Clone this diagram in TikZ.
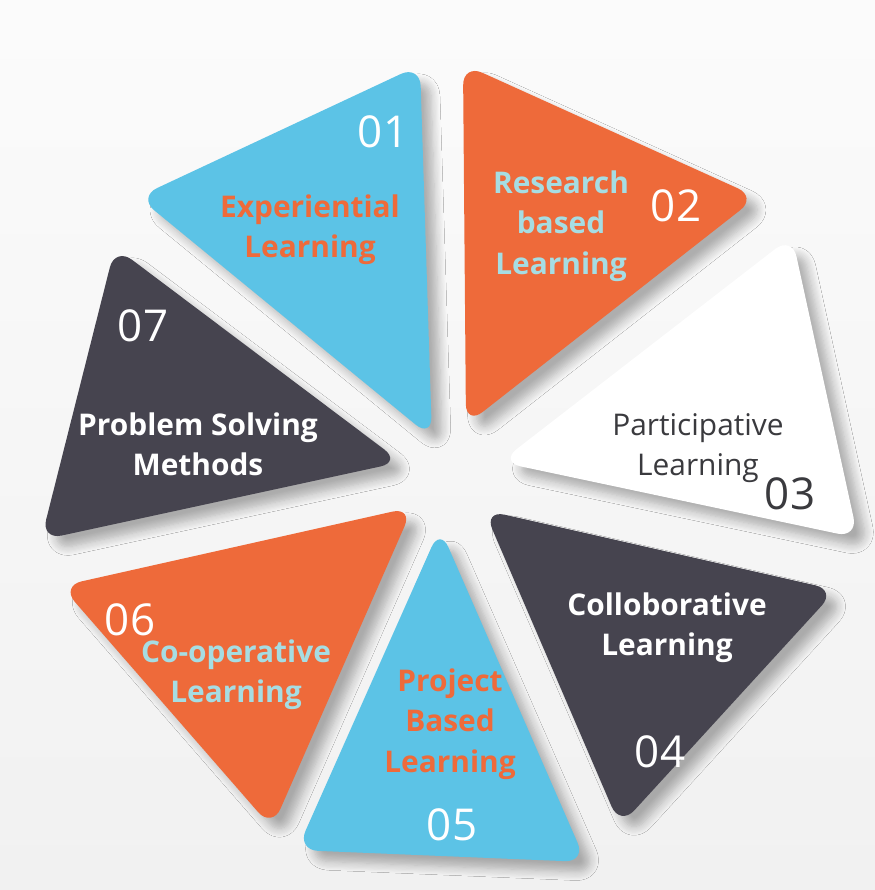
\documentclass[tikz,border=0pt]{standalone}
\usepackage{fontspec}
\setmainfont{Open Sans}
\usetikzlibrary{shadows.blur}
\definecolor{skyblue}{HTML}{5CC3E6}
\definecolor{coral}{HTML}{EE6A3A}
\definecolor{slate}{HTML}{46444F}
\definecolor{paleaqua}{HTML}{A6DDE3}
\definecolor{inkgray}{HTML}{3A3A3E}

\begin{document}
\begin{tikzpicture}[x=0.02cm,y=-0.02cm,
  every node/.style={align=center,font=\fontsize{17}{23}\selectfont\bfseries},
  piece/.style={rounded corners=12pt,blur shadow={shadow xshift=6pt,shadow yshift=-6pt,shadow blur radius=5pt,shadow blur steps=8,shadow opacity=30}},
  num/.style={font=\fontsize{25}{30}\selectfont,text=white}]
  % background
  \shade[top color=gray!3,bottom color=gray!11] (0,0) rectangle (875,890);

  % the seven pieces
  \fill[piece,skyblue] (138,197) -- (420,65) -- (432,438) -- cycle;
  \fill[piece,coral] (463,64) -- (757,197) -- (466,425) -- cycle;
  \fill[piece,white] (792,236) -- (858,538) -- (500,462) -- cycle;
  \fill[piece,slate] (484,510) -- (836,590) -- (620,826) -- cycle;
  \fill[piece,skyblue] (440,528) -- (586,862) -- (297,850) -- cycle;
  \fill[piece,coral] (413,507) -- (272,828) -- (61,586) -- cycle;
  \fill[piece,slate] (115,247) -- (401,462) -- (41,540) -- cycle;

  % labels
  \node[num] (n01) at (383,132) {01};
  \node[text=coral] (t01) at (310,230) {Experiential\\Learning};
  \node[num] (n02) at (676,206) {02};
  \node[text=paleaqua] (t02) at (561,226) {Research\\based\\Learning};
  \node[text=inkgray,font=\fontsize{17}{23}\selectfont] (t03) at (698,448) {Participative\\Learning};
  \node[num,text=inkgray] (n03) at (790,494) {03};
  \node[text=white] (t04) at (667,628) {Colloborative\\Learning};
  \node[num] (n04) at (660,752) {04};
  \node[text=coral] (t05) at (450,724) {Project\\Based\\Learning};
  \node[num] (n05) at (452,825) {05};
  \node[num] (n06) at (130,620) {06};
  \node[text=paleaqua] (t06) at (236,675) {Co-operative\\Learning};
  \node[num] (n07) at (143,326) {07};
  \node[text=white] (t07) at (198,444) {Problem Solving\\Methods};
\end{tikzpicture}
\end{document}
